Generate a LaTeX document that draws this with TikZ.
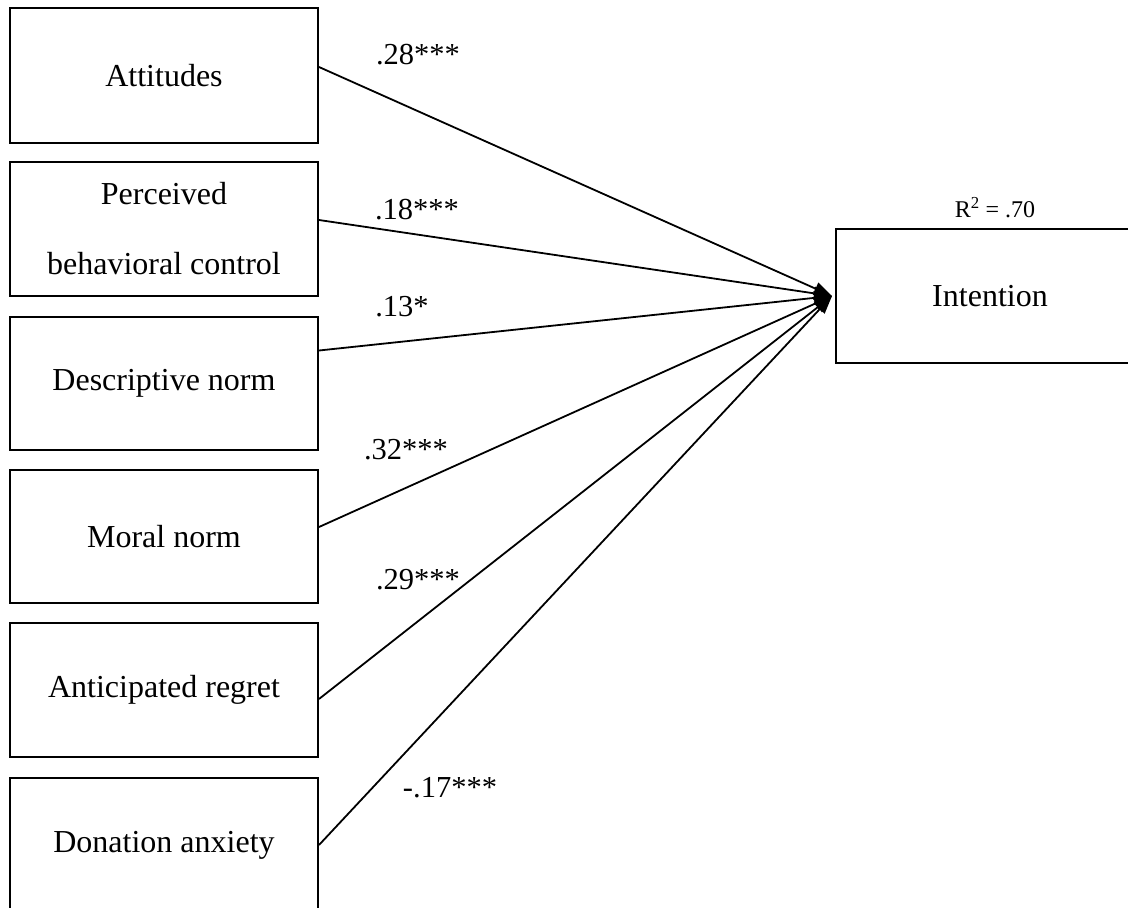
\documentclass[tikz,border=0pt]{standalone}
\usepackage{fontspec}
\setmainfont{Liberation Serif}
\usetikzlibrary{arrows.meta}
\begin{document}
\begin{tikzpicture}[x=1pt,y=-1pt,
  varbox/.style={draw, line width=2pt, minimum width=308pt, inner sep=0pt, align=center, font=\fontsize{32}{38}\selectfont},
  path/.style={line width=1.8pt, -{Triangle[length=18pt,width=13pt]}},
  coef/.style={font=\fontsize{30.5}{36}\selectfont, inner sep=0pt}]
\useasboundingbox (0,0) rectangle (1128,908);
\fill[white] (0,0) rectangle (1128,908);
\node[varbox, minimum height=135pt] (att) at (164,75.5) {Attitudes};
\node[varbox, minimum height=134pt] (pbc) at (164,229) {Perceived\\[32pt]behavioral control};
\node[varbox, minimum height=133pt] (des) at (164,383.5) {Descriptive norm};
\node[varbox, minimum height=133pt] (mor) at (164,536.5) {Moral norm};
\node[varbox, minimum height=134pt] (ant) at (164,690) {Anticipated regret};
\node[varbox, minimum height=134pt] (don) at (164,845) {Donation anxiety};
\node[varbox, minimum height=134pt] (int) at (990,296) {Intention};
\node[font=\fontsize{24}{28}\selectfont, inner sep=0pt] (r2) at (995,208) {R\textsuperscript{2} = .70};
\coordinate (tip) at ([xshift=-3pt]int.west);
\draw[path] ([yshift=8.5pt]att.east) -- (tip);
\draw[path] ([yshift=9pt]pbc.east) -- (tip);
\draw[path] ([yshift=33pt]des.east) -- (tip);
\draw[path] ([yshift=9.5pt]mor.east) -- (tip);
\draw[path] ([yshift=-9pt]ant.east) -- (tip);
\draw[path] (don.east) -- (tip);
\node[coef] (c1) at (418,55) {.28***};
\node[coef] (c2) at (417,210) {.18***};
\node[coef] (c3) at (402,307) {.13*};
\node[coef] (c4) at (406,450) {.32***};
\node[coef] (c5) at (418,580) {.29***};
\node[coef] (c6) at (450,788) {-.17***};
\end{tikzpicture}
\end{document}
